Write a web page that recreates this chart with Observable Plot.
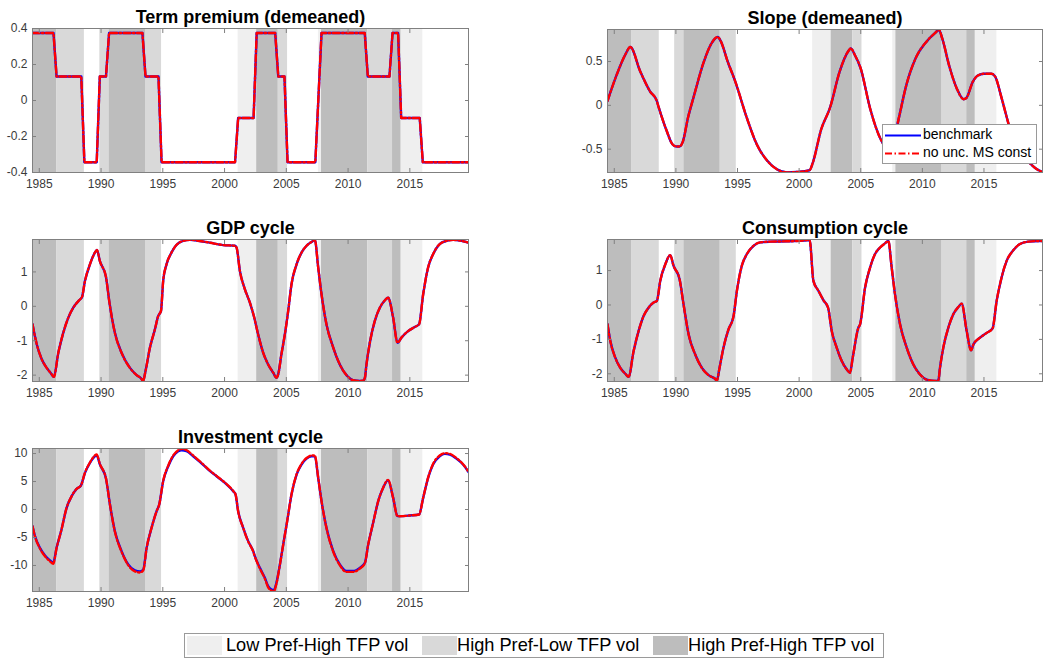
<!DOCTYPE html>
<html>
<head>
<meta charset="utf-8">
<script src="https://cdn.jsdelivr.net/npm/d3@7"></script>
<script src="https://cdn.jsdelivr.net/npm/@observablehq/plot@0.6"></script>
<style>
  body { margin: 0; background: #fff; }
  #fig { position: relative; width: 1046px; height: 661px; overflow: hidden;
         font-family: "Liberation Sans", Arial, Helvetica, sans-serif; background: #fff; }
  #fig > svg { position: absolute; overflow: visible; }
  .box { position: absolute; background: #fff; border: 1px solid #9a9a9a; box-sizing: border-box; }
  .lbl { position: absolute; white-space: nowrap; color: #000; }
  .sw { position: absolute; }
</style>
</head>
<body>
<div id="fig"></div>
<script>
// ---- Regime periods (shaded bands); unshaded gaps are Low Pref-Low TFP vol ----
const regimeNames = ["Low Pref-High TFP vol", "High Pref-Low TFP vol", "High Pref-High TFP vol"];
const regimeFills = ["#efefef", "#d9d9d9", "#bdbdbd"];
const regimeStart = [1984.45, 1986.4, 1989.9, 1990.65, 1993.6, 2001.1, 2002.6, 2004.35, 2007.6, 2007.85, 2011.6, 2013.6, 2014.3];
const regimeEnd   = [1986.4, 1988.65, 1990.65, 1993.6, 1994.9, 2002.6, 2004.35, 2005.1, 2007.85, 2011.6, 2013.6, 2014.3, 2016.05];
const regimeKind  = [2, 1, 1, 2, 1, 0, 2, 1, 0, 2, 1, 2, 0];

// ---- Axis settings ----
const xDomain = [1984.45, 2019.75];
const xTicks = [1985, 1990, 1995, 2000, 2005, 2010, 2015];

// ---- Series: [date, value] ----
const termPremium = [
  [1984.45, 0.375], [1986.15, 0.375], [1986.4, 0.133], [1988.4, 0.133], [1988.65, -0.343],
  [1989.65, -0.343], [1989.9, 0.133], [1990.4, 0.133], [1990.65, 0.375], [1993.35, 0.375],
  [1993.6, 0.133], [1994.65, 0.133], [1994.9, -0.343], [2000.85, -0.343], [2001.1, -0.097],
  [2002.35, -0.097], [2002.6, 0.375], [2004.1, 0.375], [2004.35, 0.133], [2004.85, 0.133],
  [2005.1, -0.343], [2007.35, -0.343], [2007.85, 0.375], [2011.35, 0.375], [2011.6, 0.133],
  [2013.35, 0.133], [2013.6, 0.375], [2014.05, 0.375], [2014.3, -0.097], [2015.8, -0.097],
  [2016.05, -0.343], [2019.75, -0.343]
];

const slope = [
  [1984.45, 0.05], [1985.2, 0.35], [1985.9, 0.58], [1986.3, 0.665], [1987.1, 0.39],
  [1987.9, 0.16], [1988.45, 0.05], [1988.6, -0.02], [1989.25, -0.29], [1989.7, -0.44],
  [1990.05, -0.47], [1990.3, -0.47], [1990.55, -0.42], [1991.0, -0.13], [1991.45, 0.1],
  [1992.25, 0.49], [1992.9, 0.71], [1993.4, 0.78], [1993.65, 0.73], [1994.2, 0.5],
  [1994.8, 0.28], [1995.75, -0.14], [1996.55, -0.44], [1997.4, -0.63], [1998.2, -0.73],
  [1999.0, -0.765], [1999.8, -0.76], [2000.85, -0.74], [2001.1, -0.66], [2001.8, -0.27],
  [2002.5, -0.03], [2003.3, 0.39], [2004.0, 0.62], [2004.2, 0.65], [2004.5, 0.58],
  [2005.0, 0.42], [2005.75, -0.03], [2006.7, -0.41], [2007.35, -0.52], [2007.6, -0.45],
  [2008.1, -0.14], [2008.7, 0.23], [2009.5, 0.55], [2010.3, 0.72], [2011.0, 0.82],
  [2011.35, 0.86], [2011.6, 0.77], [2012.2, 0.44], [2012.8, 0.19], [2013.35, 0.07],
  [2013.55, 0.08], [2014.1, 0.27], [2014.5, 0.34], [2015.0, 0.36], [2015.6, 0.36],
  [2015.9, 0.33], [2016.4, 0.1], [2017.1, -0.26], [2017.8, -0.5], [2018.8, -0.67],
  [2019.3, -0.73], [2019.75, -0.76]
];

const gdp = [
  [1984.45, -0.52], [1984.8, -1.11], [1985.2, -1.54], [1985.6, -1.79], [1985.95, -1.95],
  [1986.18, -2.05], [1986.54, -1.35], [1986.94, -0.77], [1987.35, -0.33], [1987.75, -0.04],
  [1988.29, 0.2], [1988.45, 0.26], [1988.7, 0.74], [1989.1, 1.22], [1989.5, 1.56],
  [1989.67, 1.64], [1989.9, 1.32], [1990.4, 0.85], [1990.66, 0.16], [1991.12, -0.77],
  [1991.66, -1.35], [1992.34, -1.79], [1992.88, -2.0], [1993.28, -2.11], [1993.4, -2.17],
  [1993.6, -1.88], [1993.96, -1.2], [1994.36, -0.67], [1994.63, -0.28], [1994.85, -0.14],
  [1995.03, 0.74], [1995.3, 1.22], [1995.7, 1.56], [1996.1, 1.78], [1996.65, 1.9],
  [1997.2, 1.93], [1998.0, 1.9], [1998.8, 1.85], [1999.9, 1.78], [2000.84, 1.76],
  [2000.97, 1.71], [2001.24, 1.03], [2001.64, 0.5], [2002.05, 0.11], [2002.37, -0.28],
  [2002.72, -0.82], [2003.13, -1.35], [2003.53, -1.69], [2003.94, -1.93], [2004.2, -2.08],
  [2004.34, -1.98], [2004.6, -1.4], [2004.88, -0.82], [2005.15, -0.14], [2005.42, 0.64],
  [2005.83, 1.22], [2006.23, 1.56], [2006.64, 1.76], [2007.04, 1.87], [2007.31, 1.93],
  [2007.58, 1.13], [2007.85, 0.35], [2008.25, -0.52], [2008.8, -1.2], [2009.33, -1.69],
  [2009.87, -2.0], [2010.41, -2.15], [2010.95, -2.17], [2011.22, -2.16], [2011.36, -2.08],
  [2011.49, -1.69], [2011.76, -1.06], [2012.16, -0.43], [2012.57, -0.04], [2012.97, 0.17],
  [2013.24, 0.25], [2013.65, -0.33], [2014.0, -1.06], [2014.32, -0.91], [2014.86, -0.72],
  [2015.4, -0.6], [2015.75, -0.52], [2016.08, 0.35], [2016.48, 1.13], [2016.88, 1.51],
  [2017.42, 1.81], [2017.96, 1.9], [2018.5, 1.93], [2019.18, 1.9], [2019.75, 1.85]
];

const consumption = [
  [1984.45, -0.56], [1984.68, -1.05], [1985.08, -1.53], [1985.49, -1.83], [1985.9, -2.0],
  [1986.16, -2.09], [1986.57, -1.34], [1986.97, -0.76], [1987.38, -0.32], [1987.78, -0.08],
  [1988.19, 0.07], [1988.46, 0.12], [1988.73, 0.7], [1989.14, 1.18], [1989.54, 1.45],
  [1989.81, 1.14], [1990.3, 0.75], [1990.62, 0.02], [1991.03, -0.85], [1991.57, -1.44],
  [1992.11, -1.83], [1992.65, -2.04], [1993.19, -2.15], [1993.32, -2.2], [1993.54, -1.83],
  [1993.86, -1.24], [1994.27, -0.71], [1994.68, -0.32], [1994.95, 0.41], [1995.35, 1.14],
  [1995.76, 1.48], [1996.3, 1.72], [1996.84, 1.82], [1997.65, 1.84], [1999.0, 1.85],
  [2000.35, 1.87], [2000.85, 1.89], [2001.16, 0.7], [2001.57, 0.41], [2001.97, 0.14],
  [2002.35, -0.08], [2002.65, -0.76], [2003.05, -1.24], [2003.46, -1.63], [2003.86, -1.87],
  [2004.13, -1.97], [2004.35, -1.53], [2004.81, -0.66], [2004.95, -0.56], [2005.35, 0.5],
  [2005.76, 1.09], [2006.16, 1.48], [2006.57, 1.67], [2006.97, 1.79], [2007.24, 1.86],
  [2007.51, 1.09], [2007.78, 0.31], [2008.19, -0.56], [2008.73, -1.24], [2009.27, -1.73],
  [2009.81, -2.02], [2010.35, -2.17], [2011.03, -2.21], [2011.3, -2.19], [2011.43, -1.83],
  [2011.7, -1.24], [2012.11, -0.66], [2012.51, -0.27], [2012.92, -0.06], [2013.19, 0.04],
  [2013.6, -0.76], [2013.95, -1.32], [2014.14, -1.15], [2014.68, -0.95], [2015.22, -0.81],
  [2015.7, -0.68], [2016.03, 0.12], [2016.43, 0.8], [2016.84, 1.28], [2017.38, 1.59],
  [2017.92, 1.77], [2018.6, 1.84], [2019.54, 1.86], [2019.75, 1.86]
];

const investment = [
  [1984.45, -2.98], [1984.65, -4.76], [1985.05, -6.85], [1985.46, -8.21], [1985.86, -9.1],
  [1986.13, -9.52], [1986.4, -6.85], [1986.8, -3.57], [1987.21, 0.3], [1987.62, 2.38],
  [1988.02, 3.69], [1988.37, 4.29], [1988.7, 6.55], [1989.1, 8.33], [1989.5, 9.52],
  [1989.64, 9.7], [1989.91, 8.04], [1990.4, 5.54], [1990.72, 0.89], [1991.12, -3.87],
  [1991.66, -7.44], [1992.2, -9.82], [1992.74, -10.89], [1993.15, -11.07], [1993.42, -10.71],
  [1993.69, -6.85], [1994.09, -3.27], [1994.5, -0.3], [1994.71, 0.89], [1995.03, 5.06],
  [1995.44, 7.74], [1995.84, 9.52], [1996.25, 10.42], [1996.52, 10.6], [1996.92, 10.42],
  [1997.46, 9.52], [1998.0, 8.51], [1998.68, 7.14], [1999.35, 5.95], [2000.03, 4.76],
  [2000.7, 3.27], [2000.89, 2.68], [2001.1, -0.3], [2001.51, -3.27], [2001.91, -5.65],
  [2002.32, -7.44], [2002.45, -8.33], [2002.86, -10.42], [2003.26, -12.2], [2003.53, -13.69],
  [2003.8, -14.29], [2003.99, -14.4], [2004.2, -13.1], [2004.48, -9.82], [2004.75, -6.25],
  [2005.07, -2.08], [2005.42, 2.68], [2005.83, 6.25], [2006.23, 8.04], [2006.64, 9.1],
  [2007.04, 9.52], [2007.31, 9.52], [2007.58, 5.65], [2007.85, 1.49], [2008.25, -3.27],
  [2008.8, -7.44], [2009.33, -9.82], [2009.87, -11.0], [2010.41, -11.0], [2010.95, -10.42],
  [2011.36, -9.52], [2011.63, -6.25], [2012.03, -2.38], [2012.44, 1.49], [2012.84, 3.87],
  [2013.24, 5.24], [2013.65, 2.08], [2014.0, -1.19], [2014.19, -1.19], [2015.0, -1.07],
  [2015.75, -0.89], [2016.08, 2.08], [2016.48, 5.65], [2016.88, 8.04], [2017.42, 9.52],
  [2017.83, 9.94], [2018.24, 9.82], [2018.77, 9.1], [2019.31, 8.04], [2019.75, 6.7]
];

// The constant-MS variant without uncertainty: investment deviates slightly at the turning points,
// the other variables coincide with the benchmark.
const investmentNoUnc = [
  [1984.45, -2.98], [1984.65, -4.8], [1985.05, -6.95], [1985.46, -8.35], [1985.86, -9.25],
  [1986.13, -9.7], [1986.4, -6.9], [1986.8, -3.57], [1987.21, 0.3], [1987.62, 2.38],
  [1988.02, 3.69], [1988.37, 4.29], [1988.7, 6.6], [1989.1, 8.4], [1989.5, 9.65],
  [1989.64, 9.85], [1989.91, 8.1], [1990.4, 5.54], [1990.72, 0.89], [1991.12, -3.95],
  [1991.66, -7.55], [1992.2, -9.95], [1992.74, -11.05], [1993.15, -11.25], [1993.42, -10.85],
  [1993.69, -6.9], [1994.09, -3.27], [1994.5, -0.3], [1994.71, 0.89], [1995.03, 5.1],
  [1995.44, 7.85], [1995.84, 9.65], [1996.25, 10.6], [1996.52, 10.8], [1996.92, 10.6],
  [1997.46, 9.65], [1998.0, 8.6], [1998.68, 7.2], [1999.35, 6.0], [2000.03, 4.8],
  [2000.7, 3.3], [2000.89, 2.7], [2001.1, -0.3], [2001.51, -3.3], [2001.91, -5.7],
  [2002.32, -7.5], [2002.45, -8.4], [2002.86, -10.55], [2003.26, -12.35], [2003.53, -13.9],
  [2003.8, -14.5], [2003.99, -14.62], [2004.2, -13.25], [2004.48, -9.9], [2004.75, -6.25],
  [2005.07, -2.08], [2005.42, 2.7], [2005.83, 6.3], [2006.23, 8.15], [2006.64, 9.2],
  [2007.04, 9.65], [2007.31, 9.65], [2007.58, 5.7], [2007.85, 1.49], [2008.25, -3.3],
  [2008.8, -7.55], [2009.33, -9.95], [2009.87, -11.15], [2010.41, -11.15], [2010.95, -10.55],
  [2011.36, -9.6], [2011.63, -6.25], [2012.03, -2.38], [2012.44, 1.49], [2012.84, 3.9],
  [2013.24, 5.3], [2013.65, 2.08], [2014.0, -1.2], [2014.19, -1.2], [2015.0, -1.07],
  [2015.75, -0.89], [2016.08, 2.1], [2016.48, 5.7], [2016.88, 8.15], [2017.42, 9.65],
  [2017.83, 10.05], [2018.24, 9.95], [2018.77, 9.2], [2019.31, 8.1], [2019.75, 6.75]
];

// ---- Styling ----
const FONT = '"Liberation Sans", Arial, Helvetica, sans-serif';
const BENCH = "#0000ff", ALT = "#ff0000";
const ALT_DASH = "7,2.5,1.5,2.5";
const AXIS = "#808080", TICKTXT = "#3a3a3a";
const ML = 40, MR = 8, MT = 32, MB = 26;

const regimes = regimeStart.map((s, i) => ({start: s, end: regimeEnd[i], regime: regimeNames[regimeKind[i]]}));
const fig = document.getElementById("fig");

function panel({title, frame, yDomain, yTicks, bench, alt, curve}) {
  const [fx, fy, fw, fh] = frame;
  const svg = Plot.plot({
    width: ML + fw + MR,
    height: MT + fh + MB,
    marginLeft: ML, marginRight: MR, marginTop: MT, marginBottom: MB,
    style: {fontFamily: FONT, fontSize: "12px", color: TICKTXT, background: "none", overflow: "visible"},
    x: {domain: xDomain},
    y: {domain: yDomain},
    color: {domain: regimeNames, range: regimeFills},
    marks: [
      Plot.rect(regimes, {x1: "start", x2: "end", fill: "regime"}),
      Plot.line(bench, {x: d => d[0], y: d => d[1], stroke: BENCH, strokeWidth: 2.4, curve, clip: true}),
      Plot.line(alt, {x: d => d[0], y: d => d[1], stroke: ALT, strokeWidth: 2.4, strokeDasharray: ALT_DASH, curve, clip: true}),
      Plot.frame({stroke: AXIS}),
      Plot.axisX({anchor: "bottom", ticks: xTicks, tickSize: -4, tickPadding: 11, tickFormat: d => String(d),
                  stroke: AXIS, fill: TICKTXT, label: null}),
      Plot.axisX({anchor: "top", ticks: xTicks, tickSize: -4, stroke: AXIS, fill: "none", label: null}),
      Plot.axisY({anchor: "left", ticks: yTicks, tickSize: -4, tickPadding: 9, tickFormat: d => String(d),
                  stroke: AXIS, fill: TICKTXT, label: null}),
      Plot.axisY({anchor: "right", ticks: yTicks, tickSize: -4, stroke: AXIS, fill: "none", label: null}),
      Plot.text([title], {text: d => d, frameAnchor: "top", dy: -6, lineAnchor: "bottom",
                          fontSize: 18, fontWeight: "bold", fill: "#000"})
    ]
  });
  svg.style.left = (fx - ML) + "px";
  svg.style.top = (fy - MT) + "px";
  fig.appendChild(svg);
}

panel({title: "Term premium (demeaned)", frame: [32, 28, 436, 144],
       yDomain: [-0.4, 0.4], yTicks: [-0.4, -0.2, 0, 0.2, 0.4],
       bench: termPremium, alt: termPremium, curve: "linear"});
panel({title: "Slope (demeaned)", frame: [607, 29, 435, 143],
       yDomain: [-0.766, 0.865], yTicks: [-0.5, 0, 0.5],
       bench: slope, alt: slope, curve: "monotone-x"});
panel({title: "GDP cycle", frame: [32, 239, 436, 142],
       yDomain: [-2.185, 1.942], yTicks: [-2, -1, 0, 1],
       bench: gdp, alt: gdp, curve: "monotone-x"});
panel({title: "Consumption cycle", frame: [607, 239, 435, 142],
       yDomain: [-2.224, 1.903], yTicks: [-2, -1, 0, 1],
       bench: consumption, alt: consumption, curve: "monotone-x"});
panel({title: "Investment cycle", frame: [32, 448, 436, 143],
       yDomain: [-14.65, 10.9], yTicks: [-10, -5, 0, 5, 10],
       bench: investment, alt: investmentNoUnc, curve: "monotone-x"});

// ---- Series legend inside the Slope panel ----
const seriesNames = ["benchmark", "no unc. MS const"];
(function seriesLegend() {
  const box = document.createElement("div");
  box.className = "box";
  Object.assign(box.style, {left: "882px", top: "124px", width: "155px", height: "40px"});
  fig.appendChild(box);
  const ns = "http://www.w3.org/2000/svg";
  const s = document.createElementNS(ns, "svg");
  s.setAttribute("width", 40); s.setAttribute("height", 40);
  Object.assign(s.style, {left: "883px", top: "125px"});
  [[BENCH, null, 10.5], [ALT, ALT_DASH, 28.5]].forEach(([c, dash, y]) => {
    const l = document.createElementNS(ns, "line");
    l.setAttribute("x1", 2); l.setAttribute("x2", 38); l.setAttribute("y1", y); l.setAttribute("y2", y);
    l.setAttribute("stroke", c); l.setAttribute("stroke-width", 2.2);
    if (dash) l.setAttribute("stroke-dasharray", dash);
    s.appendChild(l);
  });
  fig.appendChild(s);
  seriesNames.forEach((name, i) => {
    const t = document.createElement("div");
    t.className = "lbl";
    t.textContent = name;
    Object.assign(t.style, {left: "923px", top: (126 + i * 18) + "px", fontSize: "14px", lineHeight: "16px"});
    fig.appendChild(t);
  });
})();

// ---- Regime legend below the panels ----
(function regimeLegend() {
  const box = document.createElement("div");
  box.className = "box";
  Object.assign(box.style, {left: "184px", top: "633px", width: "700px", height: "25px"});
  fig.appendChild(box);
  const swatchX = [187, 422, 653];
  const textX = [226, 457, 688];
  regimeNames.forEach((name, i) => {
    const sw = document.createElement("div");
    sw.className = "sw";
    Object.assign(sw.style, {left: swatchX[i] + "px", top: "636px", width: "35px", height: "19px", background: regimeFills[i]});
    fig.appendChild(sw);
    const t = document.createElement("div");
    t.className = "lbl";
    t.textContent = name;
    Object.assign(t.style, {left: textX[i] + "px", top: "634px", fontSize: "18.2px", lineHeight: "22px"});
    fig.appendChild(t);
  });
})();
</script>
</body>
</html>
